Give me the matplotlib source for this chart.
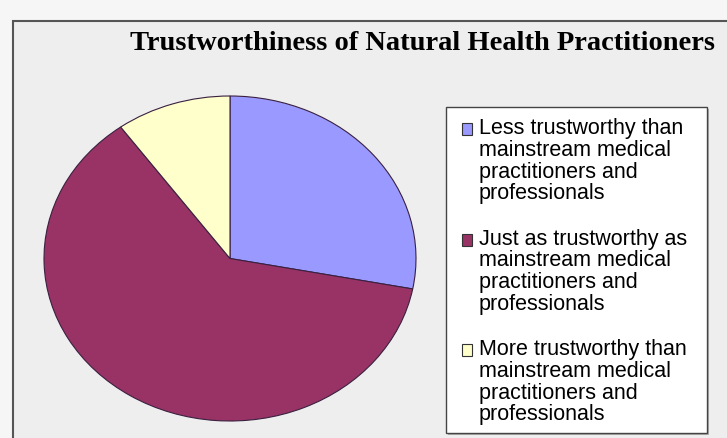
import matplotlib
matplotlib.use("Agg")
import matplotlib.pyplot as plt
from matplotlib.patches import Rectangle
from matplotlib.legend_handler import HandlerPatch

# survey shares (percent)
categories = [
    "Less trustworthy than\nmainstream medical\npractitioners and\nprofessionals",
    "Just as trustworthy as\nmainstream medical\npractitioners and\nprofessionals",
    "More trustworthy than\nmainstream medical\npractitioners and\nprofessionals",
]
shares = [28, 62, 10]
colors = ["#9999ff", "#993366", "#ffffcc"]

W, H = 727, 438
FS = 15.5
fig = plt.figure(figsize=(W / 100, H / 100), dpi=100)
fig.patch.set_facecolor("#f6f6f6")


def px_rect(x0, y0, x1, y1, **kw):
    # rectangle given in pixel coords measured from the top-left corner
    r = Rectangle((x0 / W, 1 - y1 / H), (x1 - x0) / W, (y1 - y0) / H,
                  transform=fig.transFigure, **kw)
    fig.patches.append(r)
    return r


# chart area frame
px_rect(13, 21, W + 20, H + 20, facecolor="#eeeeee", edgecolor="#555555",
        linewidth=1.5, zorder=-5)

fig.text(422 / W, 1 - 43 / H, "Trustworthiness of Natural Health Practitioners",
         ha="center", va="center", fontsize=20.5, fontweight="bold",
         family="Liberation Serif")

# stretched pie: axes box is wider than tall
ax = fig.add_axes([44 / W, (H - 421) / H, 372 / W, 325 / H])
ax.patch.set_visible(False)
wedges, _ = ax.pie(shares, colors=colors, startangle=90, counterclock=False,
                   wedgeprops=dict(edgecolor="#3a2040", linewidth=0.8))
ax.set_aspect("auto")
ax.set_xlim(-1, 1)
ax.set_ylim(-1, 1)

# legend box with a small drop shadow
px_rect(448, 109, 709, 435, facecolor="#b0b0b0", edgecolor="none", zorder=-4)
px_rect(446, 107, 707, 433, facecolor="white", edgecolor="#444444",
        linewidth=1.0, zorder=-3)


def top_square(legend, orig_handle, xdescent, ydescent, width, height, fontsize):
    # put the swatch next to the first line of the label
    return Rectangle((-xdescent, -ydescent + 1.5 * fontsize), width, height)


leg = fig.legend(wedges, categories, loc="upper left",
                 bbox_to_anchor=(462 / W, 1 - 118 / H),
                 prop={"family": "Liberation Sans", "size": FS},
                 frameon=False,
                 handlelength=0.47, handleheight=0.47, handletextpad=0.3,
                 labelspacing=1.12, borderpad=0, borderaxespad=0,
                 handler_map={w: HandlerPatch(patch_func=top_square) for w in wedges})
for t in leg.get_texts():
    t.set_linespacing(1.05)
for h in leg.legend_handles:
    h.set_edgecolor("#333333")
    h.set_linewidth(0.8)

fig.savefig("out.png", dpi=100, facecolor=fig.get_facecolor())
